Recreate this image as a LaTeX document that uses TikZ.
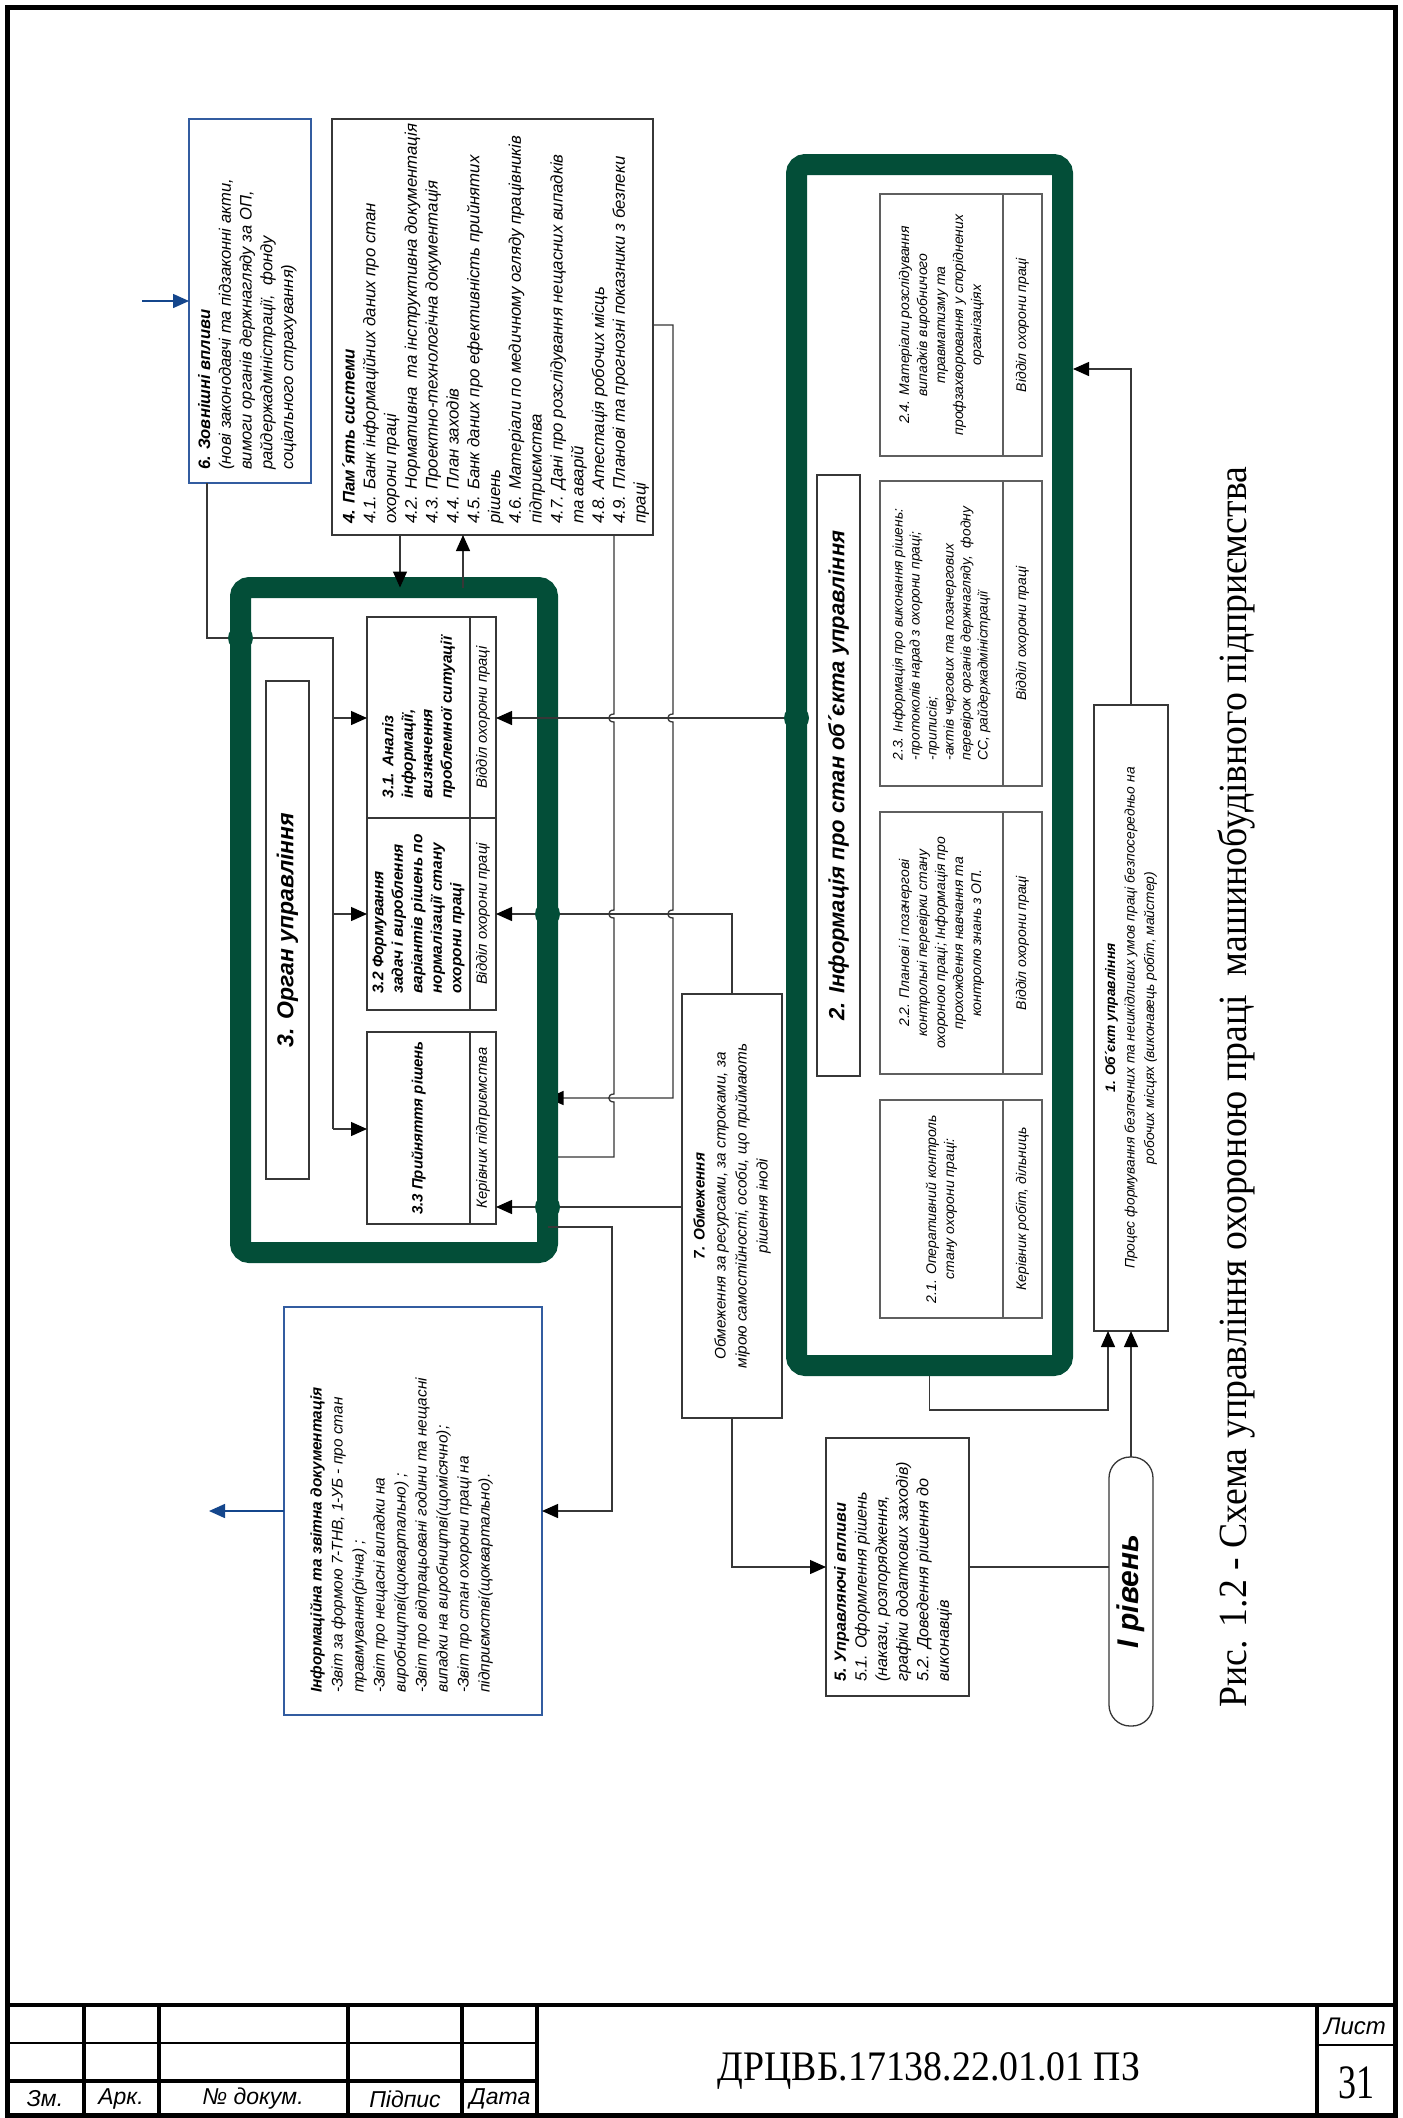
\documentclass[tikz,border=0pt]{standalone}
\usepackage{fontspec}
\setmainfont{Liberation Serif}
\newfontfamily\dfont{Liberation Sans}
\usetikzlibrary{arrows.meta,calc}
\definecolor{frgreen}{RGB}{3,78,56}
\definecolor{bblue}{RGB}{50,92,160}
\definecolor{ablue}{RGB}{20,70,140}
\definecolor{lgray}{RGB}{55,55,55}
\definecolor{mgray}{RGB}{95,95,95}
\begin{document}
\begin{tikzpicture}[x=1pt,y=-1pt]
\tikzset{
 box/.style={draw=lgray, line width=1.3pt, fill=white, inner sep=0pt, outer sep=0pt},
 gbox/.style={draw=mgray, line width=1.3pt, fill=white, inner sep=0pt, outer sep=0pt},
 bluebox/.style={draw=bblue, line width=1.4pt, fill=white, inner sep=0pt, outer sep=0pt},
 gframe/.style={draw=frgreen, line width=21pt, rounded corners=9pt, inner sep=0pt, outer sep=0pt},
 conn/.style={draw=lgray, line width=1.3pt},
 arr/.style={conn, -{Triangle[length=16pt,width=14pt,color=black]}},
 barr/.style={draw=ablue, line width=1.5pt, -{Triangle[length=16pt,width=14pt]}},
 gdot/.style={circle, fill=frgreen, minimum size=25pt, inner sep=0pt},
 rt/.style={rotate=90, inner sep=0pt, font=\dfont\itshape\fontsize{16.6}{20.7}\selectfont},
 rts/.style={rotate=90, inner sep=0pt, font=\dfont\itshape\fontsize{14}{18}\selectfont},
 rtsb/.style={rotate=90, inner sep=0pt, font=\dfont\itshape\fontsize{14.8}{18}\selectfont},
 rtb/.style={rotate=90, inner sep=0pt, font=\dfont\bfseries\itshape\fontsize{15.5}{19.5}\selectfont},
 rth/.style={rotate=90, inner sep=0pt, font=\dfont\bfseries\itshape\fontsize{22}{26}\selectfont},
 hop/.style args={#1,#2}{insert path={-- (#1,#2-4) .. controls (#1-7,#2-4) and (#1-7,#2+4) .. (#1,#2+4)}},
 tb/.style={line width=3.5pt, draw=black},
 tn/.style={line width=1.5pt, draw=black},
 lab/.style={inner sep=0pt, font=\dfont\itshape\fontsize{23}{26}\selectfont},
}
\useasboundingbox (0,0) rectangle (1403,2118);
\fill[white] (0,0) rectangle (1403,2118);

% ---------- sheet frame and title block ----------
\draw[line width=5pt] (7,7) rectangle (1395,2115);
\draw[tb] (7,2005) -- (1395,2005);
\draw[tb] (7,2081) -- (537,2081);
\draw[tn] (7,2043) -- (537,2043);
\foreach \xx in {84,159,348,462,537,1317} \draw[tb] (\xx,2005) -- (\xx,2115);
\draw[tn] (1317,2045) -- (1395,2045);
\node[lab] (lzm) at (45,2099) {Зм.};
\node[lab] (lark) at (121,2099) {Арк.};
\node[lab] (ldoc) at (253,2099) {№ докум.};
\node[lab] (lpid) at (405,2099) {Підпис};
\node[lab] (ldat) at (500,2099) {Дата};
\node[lab, font=\dfont\itshape\fontsize{24}{26}\selectfont] (llist) at (1355,2026) {Лист};
\node[inner sep=0pt, font=\fontsize{42}{46}\selectfont] (code) at (929,2071) {\scalebox{0.9}[1]{ДРЦВБ.17138.22.01.01 ПЗ}};
\node[inner sep=0pt, font=\fontsize{48}{50}\selectfont] (page) at (1356,2083) {\scalebox{0.75}[1]{31}};

% ---------- coordinates ----------
\coordinate (in6) at (142,301);
\coordinate (j6) at (207,638);
\coordinate (j3) at (333,638);
\coordinate (y31) at (0,718);
\coordinate (y32) at (0,914);
\coordinate (y33l) at (0,1129);
\coordinate (y33r) at (0,1207);
\coordinate (xa) at (614,0);
\coordinate (xb) at (673,0);
\coordinate (y4r) at (0,325);
\coordinate (x4a) at (400,0);
\coordinate (x4b) at (463,0);
\coordinate (yC) at (0,1227);
\coordinate (xC) at (612,0);
\coordinate (yI) at (0,1511);
\coordinate (outI) at (209,1511);
\coordinate (s14) at (929.5,1376);
\coordinate (y14) at (0,1410);
\coordinate (x14) at (1108,0);
\coordinate (e15) at (1073,369);
\coordinate (dv3) at (470,0);
\coordinate (dv2) at (1003,0);

% ---------- upper boxes ----------
\node[bluebox, minimum width=122pt, minimum height=364pt] (b6) at (250,301) {};
\node[box, minimum width=321pt, minimum height=416pt] (b4) at (492.5,327) {};

% connector that runs under the frame of block 3
\draw[arr] (b4.east |- y4r) -- (xb |- y4r) [hop={673,718}] [hop={673,914}] -- (673,1098) -- (547.5,1098);

% ---------- green frames ----------
\node[gframe, minimum width=307pt, minimum height=665pt] (f3) at (394,920) {};
\node[gframe, minimum width=266pt, minimum height=1201pt] (f2) at (929.5,765) {};

% ---------- block 3 contents ----------
\node[box, minimum width=43pt, minimum height=498pt] (b3t) at (287.5,930) {};
\node[box, minimum width=129pt, minimum height=201pt] (b31) at (431.5,717.5) {};
\node[box, minimum width=129pt, minimum height=192pt] (b32) at (431.5,914) {};
\node[box, minimum width=129pt, minimum height=192pt] (b33) at (431.5,1128) {};
\draw[box] (b31.north -| dv3) -- (b32.south -| dv3);
\draw[box] (b33.north -| dv3) -- (b33.south -| dv3);

% ---------- block 2 contents ----------
\node[box, minimum width=43pt, minimum height=601pt] (b2t) at (838.5,775.5) {};
\node[gbox, minimum width=162pt, minimum height=262pt] (b24) at (961,325) {};
\node[gbox, minimum width=162pt, minimum height=305pt] (b23) at (961,633.5) {};
\node[gbox, minimum width=162pt, minimum height=262pt] (b22) at (961,943) {};
\node[gbox, minimum width=162pt, minimum height=218pt] (b21) at (961,1209) {};
\foreach \bb in {b24,b23,b22,b21} \draw[gbox] (\bb.north -| dv2) -- (\bb.south -| dv2);

% ---------- other boxes ----------
\node[box, minimum width=74pt, minimum height=626pt] (b1) at (1131,1018) {};
\node[box, minimum width=100pt, minimum height=424pt] (b7) at (732,1206) {};
\node[box, minimum width=143pt, minimum height=258pt] (b5) at (897.5,1567) {};
\node[box, rounded corners=21pt, minimum width=44pt, minimum height=269pt] (lvl) at (1131,1591.5) {};
\node[bluebox, minimum width=258pt, minimum height=408pt] (info) at (413,1511) {};

% ---------- connectors ----------
\draw[barr] (in6) -- (b6.west |- in6);
\draw[conn] (b6.south -| j6) |- (j3) -- (j3 |- y33l);
\draw[arr] (j3 |- y31) -- (b31.west |- y31);
\draw[arr] (j3 |- y32) -- (b32.west |- y32);
\draw[arr] (j3 |- y33l) -- (b33.west |- y33l);

\draw[arr] (b4.south -| x4a) -- (f3.north -| x4a);
\draw[arr] (f3.north -| x4b) -- (b4.south -| x4b);

\draw[arr] (f2.west |- y31) -- (b31.east |- y31);
\draw[arr] (b7.north) |- (b32.east |- y32);
\draw[conn] (b4.south -| xa) [hop={614,718}] [hop={614,914}] [hop={614,1098}] -- (614,1157) -- (558,1157);
\draw[arr] (b7.west |- y33r) -- (b33.east |- y33r);
\draw[arr] (f3.east |- yC) -| (xC |- yI) -- (info.east |- yI);
\draw[barr] (info.west |- yI) -- (outI);

\draw[arr] (b7.south) |- (b5.west);
\draw[conn] (b5.east) -- (lvl.west |- b5.east);
\draw[arr] (lvl.north) -- (b1.south);
\draw[arr] (s14) |- (x14 |- y14) -- (b1.south -| x14);
\draw[arr] (b1.north) |- (e15);

% ---------- junction dots ----------
\node[gdot] (d1) at (f3.west |- j6) {};
\node[gdot] (d2) at (f3.east |- y32) {};
\node[gdot] (d3) at (f3.east |- y33r) {};
\node[gdot] (d4) at (f2.west |- y31) {};

% ---------- texts ----------
\node[rt, anchor=north west, align=left] (t6) at (198,470) {\textbf{6. Зовнішні впливи}\\(нові законодавчі та підзаконні акти,\\вимоги органів держнагляду за ОП,\\райдержадміністрації,~~фонду\\соціального страхування)};

\node[rt, anchor=north west, align=left, font=\dfont\itshape\fontsize{16.8}{20.8}\selectfont] (t4) at (342,524) {\textbf{4. Пам´ять системи}\\4.1. Банк інформаційних даних про стан\\охорони праці\\4.2. Нормативна~~та інструктивна документація\\4.3. Проектно-технологічна документація\\4.4. План заходів\\4.5. Банк даних про ефективність прийнятих\\рішень\\4.6. Матеріали по медичному огляду працівників\\підприємства\\4.7. Дані про розслідування нещасних випадків\\та аварій\\4.8. Атестація робочих місць\\4.9. Планові та прогнозні показники з безпеки\\праці};

\node[rth, font=\dfont\bfseries\itshape\fontsize{23}{26}\selectfont] (t3) at (b3t) {3. Орган управління};
\node[rtb, align=left] (t31) at (418.5,717.5) {3.1. Аналіз\\інформації,\\визначення\\проблемної ситуації};
\node[rtb, align=left] (t32) at (418.5,914) {3.2 Формування\\задач і вироблення\\варіантів рішень по\\нормалізації стану\\охорони праці};
\node[rtb, font=\dfont\bfseries\itshape\fontsize{15}{19.5}\selectfont] (t33) at (418.5,1128) {3.3 Прийняття рішень};
\node[rtsb] (s31) at (483,717.5) {Відділ охорони праці};
\node[rtsb] (s32) at (483,914) {Відділ охорони праці};
\node[rtsb] (s33) at (483,1128) {Керівник підприємства};

\node[rth] (t2) at (b2t) {2. Інформація про стан об´єкта управління};
\node[rts, align=center] (t24) at (941.5,325) {2.4. Матеріали розслідування\\випадків виробничого\\травматизму та\\профзахворювання у споріднених\\організаціях};
\node[rts, align=left, font=\dfont\itshape\fontsize{13.8}{17}\selectfont] (t23) at (941.5,633.5) {2.3. Інформація про виконання рішень:\\-протоколів нарад з охорони праці;\\-приписів;\\-актів чергових та позачергових\\перевірок органів держнагляду,~~фодну\\СС, райдержадміністрації};
\node[rts, align=center] (t22) at (941.5,943) {2.2. Планові і позачергові\\контрольні перевірки стану\\охороною праці; Інформація про\\прохождення навчання та\\контролю знань з ОП.};
\node[rts, align=center] (t21) at (941.5,1209) {2.1. Оперативний контроль\\стану охорони праці:};
\node[rts] (s24) at (1022.5,325) {Відділ охорони праці};
\node[rts] (s23) at (1022.5,633.5) {Відділ охорони праці};
\node[rts] (s22) at (1022.5,943) {Відділ охорони праці};
\node[rts] (s21) at (1022.5,1209) {Керівник робіт, дільниць};

\node[rt, align=center, font=\dfont\itshape\fontsize{13.8}{19.5}\selectfont] (t1) at (b1) {\textbf{1. Об´єкт управління}\\Процес формування безпечних та нешкідливих умов праці безпосередньо на\\робочих місцях (виконавець робіт, майстер)};

\node[rt, align=center, font=\dfont\itshape\fontsize{15.3}{21}\selectfont] (t7) at (b7) {\textbf{7. Обмеження}\\Обмеження за ресурсами, за строками, за\\мірою самостійності, особи, що приймають\\рішення іноді};

\node[rt, anchor=north west, align=left, font=\dfont\itshape\fontsize{16.2}{20.6}\selectfont] (t5) at (834,1682) {\textbf{5. Управляючі впливи}\\5.1. Оформлення рішень\\(накази, розпорядження,\\графіки додаткових заходів)\\5.2. Доведення рішення до\\виконавців};

\node[rotate=90, inner sep=0pt, font=\dfont\bfseries\itshape\fontsize{30}{32}\selectfont] (tl) at (lvl) {I рівень};

\node[rt, anchor=north west, align=left, font=\dfont\itshape\fontsize{15.4}{21}\selectfont] (ti) at (310,1693) {\textbf{Інформаційна та звітна документація}\\-Звіт за формою 7-ТНВ, 1-УБ - про стан\\травмування(річна) ;\\-Звіт про нещасні випадки на\\виробництві(щоквартально) ;\\-Звіт про відпрацьовані години та нещасні\\випадки на виробництві(щомісячно);\\-Звіт про стан охорони праці на\\підприємстві(щоквартально).};

\node[rotate=90, inner sep=0pt, font=\fontsize{40}{44}\selectfont] (cap) at (1236,1087) {\scalebox{0.944}[1]{Рис. 1.2 - Схема управління охороною праці~~машинобудівного підприємства}};
\end{tikzpicture}
\end{document}
